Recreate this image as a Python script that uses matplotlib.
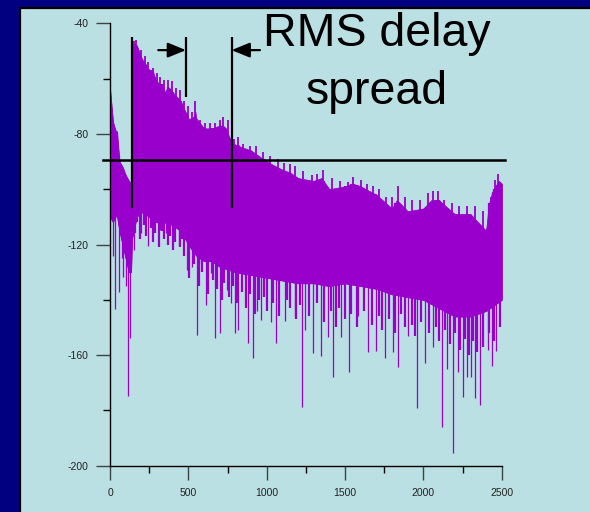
import numpy as np
import matplotlib
matplotlib.use("Agg")
import matplotlib.pyplot as plt
from matplotlib.patches import Rectangle

# ---------------- data ----------------
# upper edge of the dense power-delay profile
top_x = [0, 15, 30, 45, 60, 80, 100, 120, 134, 140, 155, 170, 190, 210, 230, 250, 270, 290,
         310, 330, 350, 370, 390, 410, 430, 450, 470, 490, 510, 530, 545, 560, 580, 600,
         620, 640, 660, 680, 700, 720, 740, 760, 780, 800, 820, 840, 860, 880, 900, 920,
         940, 960, 980, 1000, 1050, 1100, 1150, 1200, 1250, 1300, 1350, 1400, 1450, 1500,
         1550, 1600, 1650, 1700, 1750, 1780, 1800, 1830, 1850, 1900, 1950, 2000, 2050,
         2100, 2150, 2200, 2250, 2300, 2350, 2400, 2420, 2440, 2460, 2480, 2500]
top_v = [-64, -74, -80, -79, -90, -92, -95, -97, -98, -49, -47.5, -48, -51, -54, -55, -57, -57, -60,
         -62, -62, -65, -63, -64, -66, -68, -68, -71, -73, -76, -75, -72, -79, -77, -78,
         -80, -78, -78, -79, -77, -77, -78, -81, -85, -84, -84, -86, -87, -87, -86, -88,
         -88, -89, -89, -90, -92, -93, -94, -96, -97, -97, -96, -100, -101, -99,
         -98, -99, -101, -102, -107, -111, -107, -104, -105, -108, -110, -107, -104,
         -104, -108, -109, -111, -109, -113, -115, -105, -101, -99, -97, -98]
# lower edge of the solid part
bot_x = [0, 20, 40, 60, 80, 100, 120, 134, 140, 170, 200, 250, 300, 350, 400, 450, 500, 550,
         600, 650, 700, 800, 900, 1000, 1100, 1200, 1300, 1400, 1500, 1600, 1700, 1800,
         1900, 2000, 2100, 2200, 2300, 2400, 2500]
bot_v = [-110, -112, -108, -115, -120, -125, -130, -130, -118, -110, -108, -110, -112, -112,
         -113, -115, -120, -124, -126, -126, -128, -130, -131, -132, -133, -134, -134, -135,
         -134, -135, -136, -138, -139, -140, -143, -146, -146, -144, -140]
# deep downward spikes
spike_x = [19, 32, 57, 75, 83, 100, 113, 128, 150, 200, 243, 317, 359, 438, 493, 523, 555,
           580, 613, 647, 672, 704, 749, 774, 800, 819, 859, 880, 912, 940, 966, 1025,
           1061, 1114, 1178, 1225, 1242, 1295, 1349, 1391, 1423, 1476, 1523, 1582, 1646,
           1695, 1752, 1806, 1838, 1901, 1961, 2008, 2061, 2117, 2150, 2189, 2220, 2252,
           2280, 2305, 2331, 2363, 2412, 2440, 2465]
spike_v = [-124, -143.5, -137, -125, -131.6, -135, -174.7, -153.7, -122, -115.9, -120.7,
           -114.8, -116, -120.7, -129.2, -128, -152.7, -127, -141.9, -130.3, -153.8, -152,
           -136.5, -141, -152, -151, -131.6, -155.7, -161, -144, -147.3, -148, -155.7,
           -147.5, -146, -178.7, -151, -159.2, -160.5, -153.3, -167.8, -153.3, -166, -146,
           -159, -158.5, -161, -159, -164.2, -153, -179, -162.9, -156.9, -185.9, -165,
           -195.3, -166, -175, -168, -167.8, -175.4, -178, -158.1, -164, -158.4]
# medium spikes fringing the solid lower edge
fringe_x = [160, 175, 190, 215, 230, 260, 275, 290, 310, 330, 345, 370, 385, 400, 415, 445,
            460, 475, 505, 535, 565, 590, 625, 655, 685, 715, 730, 760, 785, 810, 845, 870,
            895, 925, 950, 985, 1000, 1040, 1080, 1130, 1150, 1190, 1215, 1270, 1320, 1365,
            1410, 1440, 1460, 1500, 1540, 1575, 1620, 1670, 1720, 1735, 1780, 1820, 1860,
            1880, 1925, 1945, 1985, 2035, 2080, 2100, 2135, 2170, 2205, 2235, 2265, 2290,
            2320, 2345, 2380, 2420, 2450, 2490]
fringe_v = [-116, -112, -118, -113, -117, -114, -119, -116, -121, -115, -118, -120, -117,
            -122, -119, -121, -118, -124, -132, -127, -135, -130, -138, -133, -136, -140,
            -134, -139, -135, -141, -137, -143, -138, -145, -140, -139, -144, -141, -146,
            -140, -143, -147, -142, -146, -141, -148, -144, -150, -143, -147, -145, -150,
            -144, -149, -146, -151, -147, -152, -145, -150, -149, -153, -148, -152, -150,
            -155, -151, -156, -152, -158, -154, -160, -155, -159, -157, -152, -155, -150]
# thin spikes poking above the upper edge
peak_x = [150, 165, 200, 222, 245, 276, 300, 322, 345, 371, 398, 420, 446, 470, 500, 523,
          545, 575, 606, 640, 670, 700, 721, 750, 790, 815, 850, 893, 930, 975, 1020, 1070,
          1110, 1150, 1180, 1230, 1290, 1320, 1360, 1420, 1470, 1520, 1550, 1600, 1640,
          1680, 1720, 1760, 1800, 1838, 1880, 1930, 1980, 2030, 2060, 2093, 2130, 2180,
          2230, 2280, 2330, 2380, 2430, 2455, 2475]
peak_v = [-46.5, -46, -49.5, -52, -54, -56, -58, -59.5, -60.5, -60.5, -61, -63.5, -64, -68,
          -70, -72, -68, -75, -76, -76, -76, -75, -74, -75, -82, -81, -83.5, -84.5, -84.5,
          -86.5, -88, -89, -90.5, -91, -91.5, -93.5, -95, -94.5, -93.2, -96, -97, -97.5,
          -95.5, -96.5, -98, -99, -100, -103, -103, -99, -103, -104, -104, -101.5, -100.8,
          -100.5, -104, -105, -106, -106, -106, -108, -103, -96.5, -94.5]

threshold = -89.4
first_arrival = 138
mean_delay = 485
rms_edge = 776
arrow_level = -49.7

x_ticks = [0, 500, 1000, 1500, 2000, 2500]
y_ticks = [-200, -160, -120, -80, -40]

# ---------------- style ----------------
plt.rcParams['axes.unicode_minus'] = False
plt.rcParams['font.family'] = ['Liberation Sans', 'DejaVu Sans']

PURPLE = '#9900CC'
PANEL = '#BBE0E3'
NAVY = '#000080'

W, H = 590, 512
fig = plt.figure(figsize=(W / 100, H / 100), dpi=100)
fig.patch.set_facecolor(NAVY)
panel = Rectangle((20 / W, -0.02), 1.0, (H - 8) / H + 0.02,
                  transform=fig.transFigure, facecolor=PANEL,
                  edgecolor='black', linewidth=1.6, zorder=-5)
fig.patches.append(panel)

ax = fig.add_axes([110 / W, 46.3 / H, 391.7 / W, 442.4 / H])
ax.set_zorder(5)
ax.set_facecolor('none')
ax.set_xlim(0, 2500)
ax.set_ylim(-200, -40)

# signal
ax.fill_between(top_x, top_v, np.interp(top_x, bot_x, bot_v), color=PURPLE, lw=0.6,
                edgecolor=PURPLE, zorder=2)
ax.fill_between(bot_x, np.interp(bot_x, top_x, top_v), bot_v, color=PURPLE, lw=0.6,
                edgecolor=PURPLE, zorder=2)
ax.vlines(spike_x, np.interp(spike_x, top_x, top_v), spike_v, color=PURPLE, lw=0.9, zorder=2)
ax.vlines(fringe_x, np.interp(fringe_x, top_x, top_v), fringe_v, color=PURPLE, lw=1.6,
          zorder=2)
ax.vlines(peak_x, np.interp(peak_x, bot_x, bot_v), peak_v, color=PURPLE, lw=1.3, zorder=2)

# annotations
ax.plot([-42, 2519], [threshold, threshold], color='black', lw=1.8, clip_on=False, zorder=4)
ax.vlines([first_arrival, rms_edge], -44.8, -106.8, color='black', lw=1.6, zorder=4)
ax.vlines([mean_delay], -44.8, -66.7, color='black', lw=1.6, zorder=4)
arrow_style = dict(arrowstyle='-|>,head_length=1.1,head_width=0.45', color='black',
                   lw=1.6, shrinkA=0, shrinkB=0)
ax.annotate('', xy=(mean_delay, arrow_level), xytext=(308, arrow_level),
            arrowprops=arrow_style, annotation_clip=False)
ax.annotate('', xy=(rms_edge, arrow_level), xytext=(957, arrow_level),
            arrowprops=arrow_style, annotation_clip=False)
ax.text(1704, -48.3, 'RMS delay', ha='center', va='baseline', fontsize=33.5,
        color='black', clip_on=False)
ax.text(1704, -69.3, 'spread', ha='center', va='baseline', fontsize=33.5,
        color='black', clip_on=False)

# axes
for s in ['top', 'right']:
    ax.spines[s].set_visible(False)
for s in ['left', 'bottom']:
    ax.spines[s].set_color('black')
    ax.spines[s].set_linewidth(1.0)
ax.set_xticks(x_ticks)
ax.set_xticklabels([str(v) for v in x_ticks])
ax.set_xticks([250, 750, 1250, 1750, 2250], minor=True)
ax.set_yticks(y_ticks)
ax.set_yticklabels([str(v) for v in y_ticks])
ax.set_yticks([-180, -140, -100, -60], minor=True)
ax.tick_params(axis='both', which='major', direction='out', length=10.3, width=1.0,
               color='#3a4444', labelsize=7.5, labelcolor='#222222')
ax.tick_params(axis='both', which='minor', direction='out', length=5, width=1.0,
               color='black')
ax.tick_params(axis='x', which='major', pad=5.5)
ax.tick_params(axis='y', which='major', pad=5)

fig.savefig('out.png', dpi=100, facecolor=fig.get_facecolor())
